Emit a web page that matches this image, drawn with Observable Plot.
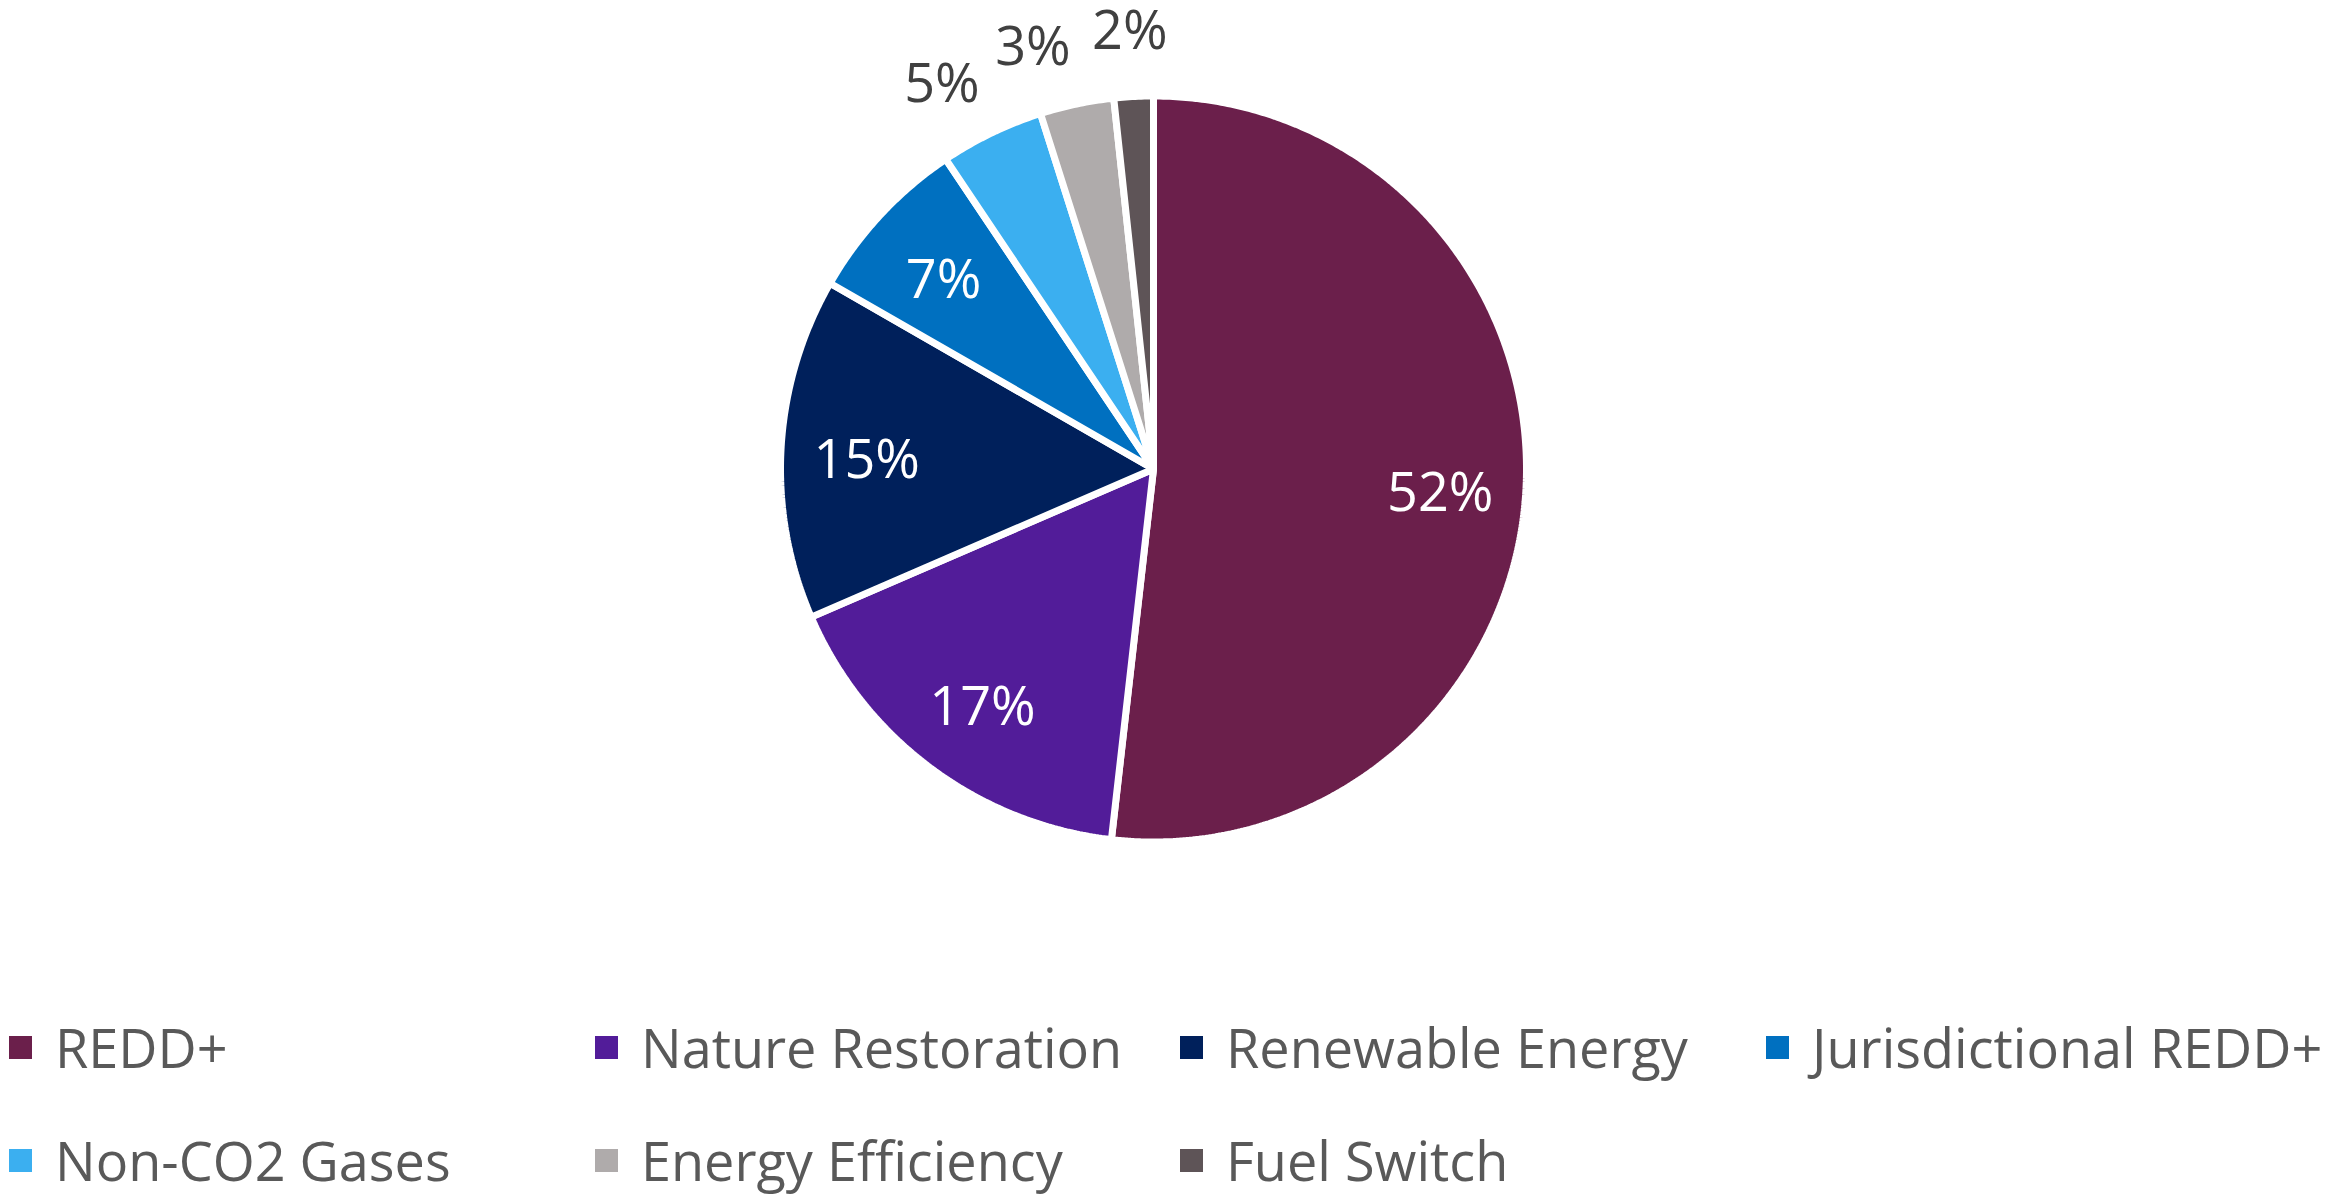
<!DOCTYPE html>
<html>
<head>
<meta charset="utf-8">
<script src="https://cdn.jsdelivr.net/npm/d3@7"></script>
<script src="https://cdn.jsdelivr.net/npm/@observablehq/plot@0.6"></script>
<style>
  html, body { margin: 0; padding: 0; background: #fff; }
  body { width: 2332px; height: 1194px; position: relative; overflow: hidden; font-family: "Open Sans", sans-serif; }
  #chart { position: absolute; left: 0; top: 0; }
  #legend { position: absolute; left: 0; top: 0; width: 2332px; height: 1194px; pointer-events: none; }
  .item { position: absolute; display: flex; align-items: center; white-space: nowrap; }
  .sw { width: 23px; height: 23px; margin-right: 23px; flex: none; }
  .lab { font-size: 54px; color: #595959; line-height: 1; }
</style>
</head>
<body>
<div id="chart"></div>
<div id="legend"></div>
<script>
// ---- data ----
const categories = ["REDD+", "Nature Restoration", "Renewable Energy", "Jurisdictional REDD+", "Non-CO2 Gases", "Energy Efficiency", "Fuel Switch"];
const shares = [51.8, 16.7, 14.8, 7.3, 4.5, 3.2, 1.7];
const colors = ["#6B1F4B", "#521C99", "#00205B", "#0070C0", "#3BAFF0", "#AFABAB", "#5E5457"];

// ---- layout ----
const W = 2332, H = 960;
const R = 373, CX = 1153, CY = 468.5;

const total = d3.sum(shares);
const slices = [];
let acc = 0;
categories.forEach((name, i) => {
  const a0 = acc / total * 2 * Math.PI;
  acc += shares[i];
  const a1 = acc / total * 2 * Math.PI;
  slices.push({name, share: shares[i], a0, a1, mid: (a0 + a1) / 2});
});

// polygon points for each slice (unit radius, angle clockwise from 12 o'clock)
const pts = [];
for (const s of slices) {
  pts.push({name: s.name, x: 0, y: 0});
  const n = Math.max(4, Math.ceil((s.a1 - s.a0) / (Math.PI / 360)));
  for (let k = 0; k <= n; k++) {
    const a = s.a0 + (s.a1 - s.a0) * k / n;
    pts.push({name: s.name, x: Math.sin(a), y: Math.cos(a)});
  }
}

// label angles: inside at mid-angle; small outside labels spread apart so they don't overlap
const minSep = 12.7 * Math.PI / 180;
const ang = slices.map(s => s.mid);
for (let i = slices.length - 2; i >= 0; i--) {
  if (slices[i].share < 6 && slices[i + 1].share < 6) ang[i] = Math.min(ang[i], ang[i + 1] - minSep);
}
const labels = slices.map((s, i) => {
  const inside = s.share >= 6;
  const rr = inside ? 0.77 : 1.19;
  return {text: Math.round(s.share) + "%", x: rr * Math.sin(ang[i]), y: rr * Math.cos(ang[i]), inside};
});

const chart = Plot.plot({
  width: W, height: H,
  margin: 0,
  style: {background: "transparent", fontFamily: "Open Sans, sans-serif"},
  x: {domain: [-CX / R, (W - CX) / R], range: [0, W], axis: null},
  y: {domain: [-(H - CY) / R, CY / R], range: [H, 0], axis: null},
  color: {domain: categories, range: colors},
  marks: [
    Plot.line(pts, {x: "x", y: "y", z: "name", fill: "name", stroke: "white", strokeWidth: 7, strokeLinejoin: "miter", curve: "linear-closed"}),
    Plot.text(labels.filter(d => d.inside), {x: "x", y: "y", text: "text", fill: "white", fontSize: 54, dy: 8}),
    Plot.text(labels.filter(d => !d.inside), {x: "x", y: "y", text: "text", fill: "#404040", fontSize: 54, dy: 6})
  ]
});
document.getElementById("chart").appendChild(chart);

// ---- legend ----
const colX = [9, 595, 1180, 1766];
const rowY = [1047, 1160];
const legend = d3.select("#legend");
categories.forEach((name, i) => {
  const c = i % 4, r = Math.floor(i / 4);
  const item = legend.append("div").attr("class", "item")
    .style("left", colX[c] + "px")
    .style("top", (rowY[r] - 30) + "px")
    .style("height", "60px");
  item.append("div").attr("class", "sw").style("background", colors[i]);
  item.append("div").attr("class", "lab").text(name);
});
</script>
</body>
</html>
